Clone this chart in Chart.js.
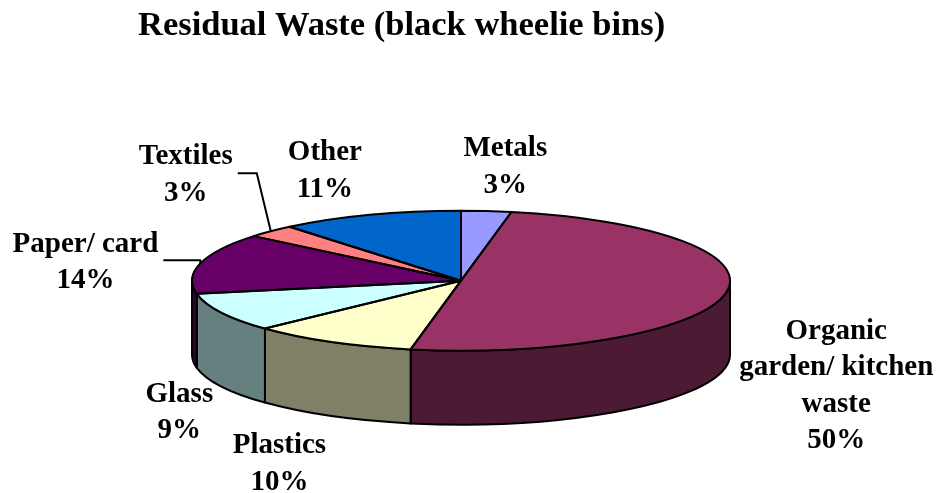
<!DOCTYPE html>
<html>
<head>
<meta charset="utf-8">
<title>Residual Waste</title>
<script src="https://cdn.jsdelivr.net/npm/chart.js@4/dist/chart.umd.min.js"></script>
<style>
  html, body { margin: 0; padding: 0; background: #fff; }
  #wrap { width: 937px; height: 493px; position: relative; }
</style>
</head>
<body>
<div id="wrap"><canvas id="chart"></canvas></div>
<script>
// waste categories (multi-line labels) and their share in percent
const categories = [
    ['Metals'],
    ['Organic', 'garden/ kitchen', 'waste'],
    ['Plastics'],
    ['Glass'],
    ['Paper/ card'],
    ['Textiles'],
    ['Other']
];
const percentages = [3, 50, 10, 9, 14, 3, 11];
const sliceColors = ['#9999FF', '#993366', '#FFFFCC', '#CCFFFF', '#660066', '#FF8080', '#0066CC'];

// label placement relative to the rim point at each slice's middle angle
const labelShift = [[19, -44], [111, 92], [-52, 122], [-42, 100], [-115, -1], [-85, -56], [-45, -44]];
const withLeader = [false, false, false, false, true, true, false];

const tilt = 0.26;   // how flat the pie top looks
const depth = 74;    // thickness of the pie wall
const labelFont = 'bold 29px "Liberation Serif", "Times New Roman", serif';

function darker(hex) {
    const n = parseInt(hex.slice(1), 16);
    const r = (n >> 16) & 255, g = (n >> 8) & 255, b = n & 255;
    return 'rgb(' + Math.round(r / 2) + ',' + Math.round(g / 2) + ',' + Math.round(b / 2) + ')';
}

function arcGeom(arc) {
    return arc.getProps(['x', 'y', 'startAngle', 'endAngle', 'outerRadius'], true);
}

const pie3d = {
    id: 'pie3d',
    beforeDatasetsDraw(chart) {
        const ctx = chart.ctx;
        const arcs = chart.getDatasetMeta(0).data;
        // front wall, only where the slice faces the viewer (0..PI)
        ctx.save();
        ctx.lineWidth = 2;
        ctx.strokeStyle = '#000';
        ctx.lineJoin = 'round';
        arcs.forEach((arc, i) => {
            const g = arcGeom(arc);
            const a = Math.max(g.startAngle, 0);
            const b = Math.min(g.endAngle, Math.PI);
            if (b <= a) return;
            ctx.beginPath();
            ctx.ellipse(g.x, g.y, g.outerRadius, g.outerRadius * tilt, 0, a, b);
            ctx.ellipse(g.x, g.y + depth, g.outerRadius, g.outerRadius * tilt, 0, b, a, true);
            ctx.closePath();
            ctx.fillStyle = darker(sliceColors[i]);
            ctx.fill();
            ctx.stroke();
        });
        ctx.restore();

        // squash the pie top into an ellipse
        const cy = arcs[0].y;
        ctx.save();
        ctx.translate(0, cy);
        ctx.scale(1, tilt);
        ctx.translate(0, -cy);
    },
    afterDatasetsDraw(chart) {
        const ctx = chart.ctx;
        ctx.restore();
        const arcs = chart.getDatasetMeta(0).data;
        ctx.save();
        ctx.lineWidth = 2;
        ctx.strokeStyle = '#000';
        ctx.lineJoin = 'round';
        arcs.forEach(arc => {
            const g = arcGeom(arc);
            ctx.beginPath();
            ctx.moveTo(g.x, g.y);
            ctx.ellipse(g.x, g.y, g.outerRadius, g.outerRadius * tilt, 0, g.startAngle, g.endAngle);
            ctx.closePath();
            ctx.stroke();
        });
        ctx.restore();
    },
    afterDraw(chart) {
        const ctx = chart.ctx;
        const arcs = chart.getDatasetMeta(0).data;
        const lineH = 36.5;
        ctx.save();
        ctx.font = labelFont;
        ctx.fillStyle = '#000';
        ctx.textAlign = 'center';
        ctx.textBaseline = 'middle';
        arcs.forEach((arc, i) => {
            const g = arcGeom(arc);
            const mid = (g.startAngle + g.endAngle) / 2;
            const ex = g.x + g.outerRadius * Math.cos(mid);
            const ey = g.y + g.outerRadius * tilt * Math.sin(mid);
            const lx = ex + labelShift[i][0];
            const ly = ey + labelShift[i][1];
            const lines = chart.data.labels[i].concat(chart.data.datasets[0].data[i] + '%');
            const top = ly - (lines.length - 1) * lineH / 2;
            lines.forEach((t, k) => ctx.fillText(t, lx, top + k * lineH));

            if (withLeader[i]) {
                const w = Math.max(...lines.map(t => ctx.measureText(t).width));
                const endX = lx + w / 2 + 5;
                const elbowX = ex - (ey - ly) * 0.25;
                ctx.beginPath();
                ctx.moveTo(ex, ey);
                ctx.lineTo(elbowX, ly - 2);
                ctx.lineTo(endX, ly - 2);
                ctx.lineWidth = 2;
                ctx.strokeStyle = '#000';
                ctx.stroke();
            }
        });
        ctx.restore();
    }
};

new Chart(document.getElementById('chart'), {
    type: 'pie',
    data: {
        labels: categories,
        datasets: [{
            data: percentages,
            backgroundColor: sliceColors,
            borderWidth: 0,
            clip: false
        }]
    },
    options: {
        responsive: true,
        maintainAspectRatio: false,
        animation: false,
        events: [],
        radius: 269,
        layout: {
            padding: { left: 138, right: 153, top: 0, bottom: 34 }
        },
        plugins: {
            legend: { display: false },
            tooltip: { enabled: false },
            title: {
                display: true,
                text: 'Residual Waste (black wheelie bins)',
                align: 'start',
                color: '#000',
                font: { family: '"Liberation Serif", "Times New Roman", serif', size: 34.5, weight: 'bold' },
                padding: { top: 5, bottom: 56 }
            }
        }
    },
    plugins: [pie3d]
});
</script>
</body>
</html>
